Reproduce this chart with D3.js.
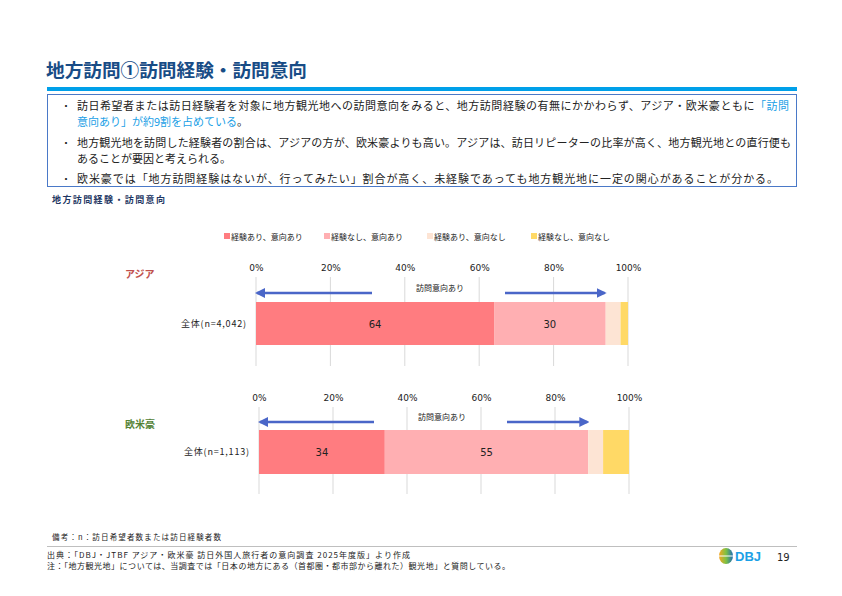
<!DOCTYPE html>
<html>
<head>
<meta charset="utf-8">
<script src="https://cdn.jsdelivr.net/npm/d3@7"></script>
<style>
  body { margin: 0; background: #fff; }
  svg { display: block; font-family: "Noto Sans CJK JP", "Noto Sans", sans-serif; }
</style>
</head>
<body>
<div id="chart"></div>
<script>
// data
const segments = ["経験あり、意向あり", "経験なし、意向あり", "経験あり、意向なし", "経験なし、意向なし"];
const regions = ["アジア", "欧米豪"];
const rowLabels = ["全体(n=4,042)", "全体(n=1,113)"];
const asiaValues = [64, 30, 4, 2];
const westValues = [34, 55, 4, 7];
const tickValues = [0, 20, 40, 60, 80, 100];

const colors = ["#FF7C80", "#FFAFB2", "#FDE4D4", "#FFD966"];
const regionColors = ["#C0504D", "#548235"];

const W = 842, H = 596;
const svg = d3.select("#chart").append("svg")
  .attr("width", W).attr("height", H)
  .attr("viewBox", `0 0 ${W} ${H}`);

// header
svg.append("text")
  .attr("x", 46).attr("y", 77)
  .attr("textLength", 261).attr("lengthAdjust", "spacingAndGlyphs")
  .style("font-size", "18px").style("font-weight", "bold")
  .attr("fill", "#184C86")
  .text("地方訪問①訪問経験・訪問意向");

svg.append("rect").attr("x", 47).attr("y", 87).attr("width", 750).attr("height", 4).attr("fill", "#00A0E9");
svg.append("rect").attr("x", 47.5).attr("y", 94.5).attr("width", 749).attr("height", 92)
  .attr("fill", "none").attr("stroke", "#4A79C8").attr("stroke-width", 1);

const bullets = [
  { y: 110, len: 712, parts: [["訪日希望者または訪日経験者を対象に地方観光地への訪問意向をみると、地方訪問経験の有無にかかわらず、アジア・欧米豪ともに", "#222"], ["「訪問", "#1AA0E6"]] },
  { y: 126, cont: true, parts: [["意向あり」が約9割を占めている", "#1AA0E6"], ["。", "#222"]] },
  { y: 147, len: 714, parts: [["地方観光地を訪問した経験者の割合は、アジアの方が、欧米豪よりも高い。アジアは、訪日リピーターの比率が高く、地方観光地との直行便も", "#222"]] },
  { y: 163, cont: true, parts: [["あることが要因と考えられる。", "#222"]] },
  { y: 183, len: 701, parts: [["欧米豪では「地方訪問経験はないが、行ってみたい」割合が高く、未経験であっても地方観光地に一定の関心があることが分かる。", "#222"]] }
];

bullets.forEach(b => {
  if (!b.cont) {
    svg.append("text").attr("x", 61).attr("y", b.y).style("font-size", "10px").attr("fill", "#222").text("・");
  }
  const t = svg.append("text").attr("x", 77).attr("y", b.y)
    .attr("textLength", b.len || null)
    .style("font-size", "11px");
  b.parts.forEach(p => t.append("tspan").attr("fill", p[1]).text(p[0]));
});

svg.append("text")
  .attr("x", 52).attr("y", 203)
  .attr("textLength", 113)
  .style("font-size", "9px").style("font-weight", "bold")
  .attr("fill", "#1F3864")
  .text("地方訪問経験・訪問意向");

// legend
const legendX = [224, 324, 427, 531];
const legend = svg.selectAll(".legend")
  .data(segments)
  .enter().append("g")
  .attr("class", "legend")
  .attr("transform", (d, i) => `translate(${legendX[i]}, 233)`);

legend.append("rect").attr("width", 6).attr("height", 6).attr("fill", (d, i) => colors[i]);
legend.append("text").attr("x", 7).attr("y", 6.5)
  .style("font-size", "8px").attr("fill", "#222").text(d => d);

// panels
const panels = [
  { values: asiaValues, x0: 256, x1: 628, tickY: 271, gridTop: 277, gridBot: 366, arrowY: 293, barY: 302, barH: 43, regionY: 278, labelX: 246 },
  { values: westValues, x0: 259, x1: 629, tickY: 401, gridTop: 407, gridBot: 494, arrowY: 422, barY: 430, barH: 44, regionY: 428, labelX: 249 }
];

svg.append("defs").append("marker")
  .attr("id", "arrow").attr("viewBox", "0 0 10 10")
  .attr("refX", 8).attr("refY", 5)
  .attr("markerWidth", 4).attr("markerHeight", 4)
  .attr("orient", "auto-start-reverse")
  .append("path").attr("d", "M0,0 L10,5 L0,10 z").attr("fill", "#4A66C8");

panels.forEach((p, k) => {
  const x = d3.scaleLinear().domain([0, 100]).range([p.x0, p.x1]);
  const g = svg.append("g");

  // region label
  g.append("text").attr("x", 125).attr("y", p.regionY)
    .style("font-size", "10px").style("font-weight", "bold").attr("fill", regionColors[k]).text(regions[k]);

  // grid lines
  g.selectAll(".grid").data(tickValues).enter().append("line")
    .attr("x1", d => x(d)).attr("x2", d => x(d))
    .attr("y1", p.gridTop).attr("y2", p.gridBot)
    .attr("stroke", "#D9D9D9").attr("stroke-width", 1);

  // top axis labels
  const axis = g.append("g").attr("transform", `translate(0, ${p.tickY})`)
    .call(d3.axisTop(x).tickValues(tickValues).tickSize(0).tickFormat(d => d + "%"));
  axis.select(".domain").remove();
  axis.selectAll("text").attr("y", 0).attr("dy", 0)
    .style("font-size", "9px").style("font-family", "'DejaVu Sans', sans-serif").attr("fill", "#222");

  // stacked bar
  let acc = 0;
  const stacked = p.values.map(v => { const s = { start: acc, v }; acc += v; return s; });
  g.selectAll(".seg").data(stacked).enter().append("rect")
    .attr("x", d => x(d.start)).attr("y", p.barY)
    .attr("width", d => x(d.start + d.v) - x(d.start)).attr("height", p.barH)
    .attr("fill", (d, i) => colors[i]);

  g.selectAll(".val").data(stacked.slice(0, 2)).enter().append("text")
    .attr("x", d => x(d.start + d.v / 2)).attr("y", p.barY + p.barH / 2 + 4)
    .attr("text-anchor", "middle")
    .style("font-size", "10px").style("font-family", "'DejaVu Sans', sans-serif").attr("fill", "#222")
    .text(d => d.v);

  g.append("text").attr("x", p.labelX).attr("y", p.barY + p.barH / 2 + 3)
    .attr("text-anchor", "end").attr("textLength", 65).style("font-size", "9px").attr("fill", "#222")
    .text(rowLabels[k]);

  // 訪問意向あり arrows (0 → sum of "意向あり" segments)
  const intent = p.values[0] + p.values[1];
  const mid = x(50) - 2;
  g.append("line").attr("x1", mid - 68).attr("x2", x(0) + 1)
    .attr("y1", p.arrowY).attr("y2", p.arrowY)
    .attr("stroke", "#4A66C8").attr("stroke-width", 2.5).attr("marker-end", "url(#arrow)");
  g.append("line").attr("x1", mid + 65).attr("x2", x(intent) - 1)
    .attr("y1", p.arrowY).attr("y2", p.arrowY)
    .attr("stroke", "#4A66C8").attr("stroke-width", 2.5).attr("marker-end", "url(#arrow)");
  g.append("text").attr("x", mid).attr("y", p.arrowY - 2)
    .attr("text-anchor", "middle").style("font-size", "8px").attr("fill", "#222")
    .text("訪問意向あり");
});

// footer
svg.append("text").attr("x", 52).attr("y", 540).attr("textLength", 169).style("font-size", "7.5px").attr("fill", "#222")
  .text("備考：n：訪日希望者数または訪日経験者数");
svg.append("line").attr("x1", 47).attr("x2", 797).attr("y1", 546.5).attr("y2", 546.5)
  .attr("stroke", "#BFBFBF").attr("stroke-width", 1);
svg.append("text").attr("x", 47).attr("y", 558).attr("textLength", 363).style("font-size", "8px").attr("fill", "#222")
  .text("出典：「DBJ・JTBF アジア・欧米豪 訪日外国人旅行者の意向調査 2025年度版」より作成");
svg.append("text").attr("x", 47).attr("y", 569).attr("textLength", 463).style("font-size", "8px").attr("fill", "#222")
  .text("注：「地方観光地」については、当調査では「日本の地方にある（首都圏・都市部から離れた）観光地」と質問している。");

// DBJ logo
const logo = svg.append("g").attr("transform", "translate(726, 556)");
const grad = svg.select("defs").append("linearGradient").attr("id", "lg").attr("x1", 0).attr("x2", 1);
grad.append("stop").attr("offset", "0").attr("stop-color", "#F5A623");
grad.append("stop").attr("offset", "0.5").attr("stop-color", "#7DC242");
grad.append("stop").attr("offset", "1").attr("stop-color", "#1F6DB5");
logo.append("ellipse").attr("rx", 7).attr("ry", 8).attr("fill", "url(#lg)");
logo.append("line").attr("x1", -7).attr("x2", 7).attr("y1", 0).attr("y2", 0).attr("stroke", "#fff").attr("stroke-width", 1);
logo.append("text").attr("x", 9).attr("y", 5).style("font-size", "13px").style("font-weight", "bold")
  .style("font-family", "'Liberation Sans', sans-serif").attr("fill", "#1AA0E6").text("DBJ");
svg.append("text").attr("x", 777).attr("y", 561).style("font-size", "10px")
  .style("font-family", "'DejaVu Sans', sans-serif").attr("fill", "#222").text("19");
</script>
</body>
</html>
